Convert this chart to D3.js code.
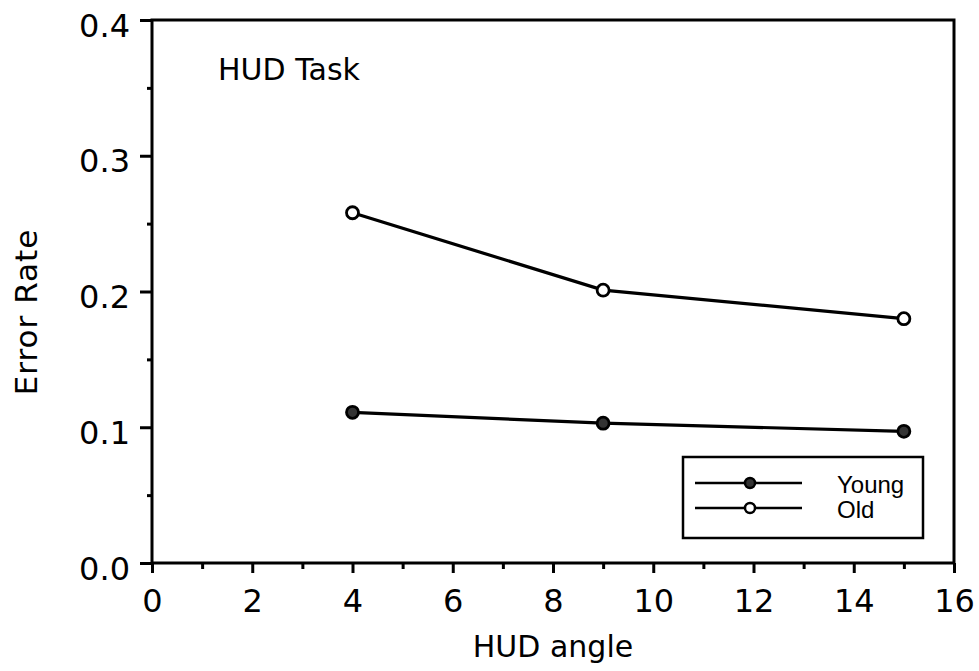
<!DOCTYPE html>
<html>
<head>
<meta charset="utf-8">
<script src="https://cdn.jsdelivr.net/npm/d3@7"></script>
<style>
  body { margin: 0; background: #fff; }
  svg { display: block; }
  .tick text { font-family: "DejaVu Sans", sans-serif; }
  .lbl { font-family: "DejaVu Sans", sans-serif; }
</style>
</head>
<body>
<svg id="chart" width="979" height="671"></svg>
<script>
// data
var angles = [4, 9, 15];
var youngErr = [0.111, 0.103, 0.097];
var oldErr = [0.258, 0.201, 0.180];
var seriesNames = ["Young", "Old"];
var xMajor = [0, 2, 4, 6, 8, 10, 12, 14, 16];
var xMinor = [1, 3, 5, 7, 9, 11, 13, 15];
var yMajor = [0, 0.1, 0.2, 0.3, 0.4];
var yMinor = [0.05, 0.15, 0.25, 0.35];

var svg = d3.select("#chart");

var x = d3.scaleLinear().domain([0, 16]).range([152, 954]);
var y = d3.scaleLinear().domain([0, 0.4]).range([563, 20]);

// minor ticks first, then major
svg.append("g")
  .attr("transform", "translate(0," + y(0) + ")")
  .call(d3.axisBottom(x).tickValues(xMinor).tickSize(6).tickFormat(""))
  .call(function(g){ g.select(".domain").remove(); });

svg.append("g")
  .attr("transform", "translate(0," + y(0) + ")")
  .call(d3.axisBottom(x).tickValues(xMajor).tickSize(10).tickPadding(16).tickFormat(d3.format("d")))
  .call(function(g){ g.select(".domain").remove(); })
  .selectAll("text").style("font-size", "32px");

svg.append("g")
  .attr("transform", "translate(" + x(0) + ",0)")
  .call(d3.axisLeft(y).tickValues(yMinor).tickSize(5).tickFormat(""))
  .call(function(g){ g.select(".domain").remove(); });

svg.append("g")
  .attr("transform", "translate(" + x(0) + ",0)")
  .call(d3.axisLeft(y).tickValues(yMajor).tickSize(12).tickPadding(10).tickFormat(d3.format(".1f")))
  .call(function(g){ g.select(".domain").remove(); })
  .selectAll("text").style("font-size", "32px").attr("dy", "0.5em");

svg.selectAll(".tick line").attr("stroke", "#000").attr("stroke-width", 3);

// frame
svg.append("rect")
  .attr("x", x(0)).attr("y", y(0.4))
  .attr("width", x(16) - x(0)).attr("height", y(0) - y(0.4))
  .attr("fill", "none").attr("stroke", "#000").attr("stroke-width", 3);

// labels
svg.append("text").attr("class", "lbl")
  .attr("x", 218).attr("y", 80)
  .style("font-size", "30px")
  .text("HUD Task");

svg.append("text").attr("class", "lbl")
  .attr("x", (x(0) + x(16)) / 2).attr("y", 657)
  .attr("text-anchor", "middle")
  .style("font-size", "30px")
  .text("HUD angle");

svg.append("text").attr("class", "lbl")
  .attr("transform", "translate(37,312) rotate(-90)")
  .attr("text-anchor", "middle")
  .style("font-size", "31px")
  .style("letter-spacing", "1px")
  .text("Error Rate");

// series
var series = [
  { name: seriesNames[0], values: youngErr, fill: "#333" },
  { name: seriesNames[1], values: oldErr, fill: "#fff" }
];

var line = d3.line()
  .x(function(d){ return x(d[0]); })
  .y(function(d){ return y(d[1]); });

series.forEach(function(s){
  var pts = angles.map(function(a, i){ return [a, s.values[i]]; });
  svg.append("path")
    .datum(pts)
    .attr("d", line)
    .attr("fill", "none").attr("stroke", "#000").attr("stroke-width", 3.2);
  svg.selectAll(null)
    .data(pts)
    .enter().append("circle")
    .attr("cx", function(d){ return x(d[0]); })
    .attr("cy", function(d){ return y(d[1]); })
    .attr("r", 6)
    .attr("fill", s.fill).attr("stroke", "#000").attr("stroke-width", 2.8);
});

// legend
var leg = svg.append("g");
leg.append("rect")
  .attr("x", 683).attr("y", 457).attr("width", 240).attr("height", 81)
  .attr("fill", "#fff").attr("stroke", "#000").attr("stroke-width", 2.5);

series.forEach(function(s, i){
  var ly = 483 + i * 25;
  leg.append("line")
    .attr("x1", 695).attr("x2", 802).attr("y1", ly).attr("y2", ly)
    .attr("stroke", "#000").attr("stroke-width", 2.5);
  leg.append("circle")
    .attr("cx", 750).attr("cy", ly).attr("r", 5)
    .attr("fill", s.fill).attr("stroke", "#000").attr("stroke-width", 2.5);
  leg.append("text")
    .attr("x", 837).attr("y", ly + 10)
    .style("font-family", "Liberation Sans, Arial, sans-serif").style("font-size", "24px")
    .text(s.name);
});
</script>
</body>
</html>
